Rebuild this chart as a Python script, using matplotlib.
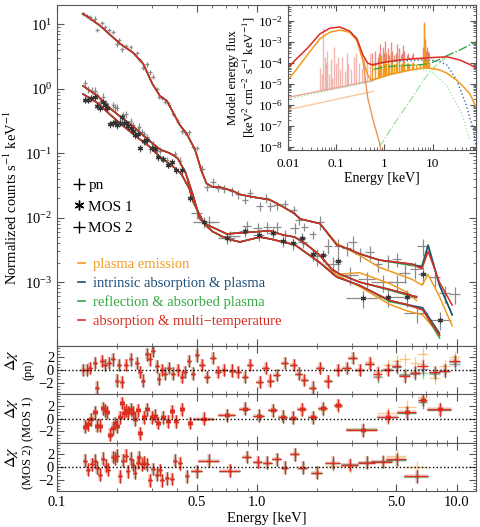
import numpy as np
import matplotlib
matplotlib.use("Agg")
from matplotlib import pyplot as plt
from matplotlib.lines import Line2D
from matplotlib.ticker import FixedLocator, FixedFormatter, NullFormatter, LogLocator, MultipleLocator

plt.rcParams['font.family'] = ['Liberation Serif', 'DejaVu Serif']
plt.rcParams['mathtext.fontset'] = 'stix'
plt.rcParams['font.size'] = 10.5
plt.rcParams['axes.edgecolor'] = '#555555'
plt.rcParams['xtick.color'] = '#555555'
plt.rcParams['ytick.color'] = '#555555'
plt.rcParams['xtick.labelcolor'] = 'black'
plt.rcParams['ytick.labelcolor'] = 'black'

# colours of the four fitted models
c_orange = '#f39a1e'
c_blue = '#1c4f7c'
c_green = '#35a845'
c_red = '#db2d20'
c_data = '#8a8a8a'

model_names = ['plasma emission', 'intrinsic absorption & plasma',
               'reflection & absorbed plasma', 'absorption & multi\u2212temperature']

# ---------------- pn spectrum ----------------
pn_E = [0.135, 0.141, 0.146, 0.155, 0.159, 0.168, 0.174, 0.182, 0.191, 0.200,
        0.204, 0.211, 0.221, 0.234, 0.251, 0.260, 0.269, 0.282, 0.292, 0.302,
        0.316, 0.323, 0.335, 0.347, 0.363, 0.380, 0.403, 0.422, 0.437, 0.457,
        0.479, 0.501, 0.531, 0.562, 0.603, 0.637, 0.683, 0.750, 0.804, 0.871,
        0.922, 1.035, 1.11, 1.17, 1.26, 1.38, 1.53, 1.62, 1.73, 1.90,
        2.07, 2.27, 2.55, 2.82, 3.02, 3.27, 3.67, 4.03, 4.53, 5.01,
        5.50, 6.18, 6.76, 7.77, 8.72, 9.78]
pn_V = [14.6, 13.5, 12.9, 12.3, 8.2, 10.5, 9.0, 8.2, 7.6, 4.9,
        5.7, 4.1, 4.6, 4.5, 3.6, 2.8, 2.1, 2.4, 1.8, 1.55,
        1.0, 0.75, 0.72, 0.63, 0.57, 0.41, 0.31, 0.22, 0.21, 0.21,
        0.125, 0.12, 0.058, 0.030, 0.036, 0.029, 0.028, 0.026, 0.023, 0.019,
        0.024, 0.015, 0.020, 0.015, 0.0155, 0.0165, 0.013, 0.0092, 0.0072, 0.0055,
        0.0085, 0.0037, 0.0037, 0.0034, 0.0042, 0.00275, 0.0029, 0.0019, 0.0021, 0.0023,
        0.0014, 0.0016, 0.0036, 0.0012, 0.00068, 0.00065]
pn_relerr = [0.08] * 32 + [0.15] * 18 + [0.25] * 10 + [0.3] * 6
pn_relwid = [0.02] * 32 + [0.035] * 9 + [0.04] * 9 + [0.05] * 10 + [0.06] * 6
pn_res_red = [0.0, 0.0, 0.3, 1.1, -2.8, 1.4, 0.8, 1.1, 1.7, -1.7,
              0.8, -1.9, 0.8, 1.7, 1.1, -0.3, -1.7, 2.5, 1.7, 3.0,
              0.6, -1.4, 0.0, -0.6, 0.3, -0.6, 0.0, -1.1, -0.3, 1.4,
              -0.6, 2.3, 0.8, -1.1, 1.9, -0.3, 0.0, -0.1, -0.3, -1.1,
              0.8, -1.9, 0.3, -1.7, -0.8, 1.1, 0.8, -0.6, -1.6, -2.8,
              0.3, -1.8, 0.0, 0.3, 1.9, 0.0, 1.0, -0.6, 0.0, 0.6,
              -1.0, -0.4, 0.6, -0.3, -0.1, 1.4]
pn_res_orange = pn_res_red[:56] + [1.2, -0.2, 0.8, 1.4, 1.7, 1.1, 2.6, -1.2, 0.6, 2.0]
pn_res_blue = pn_res_red[:56] + [1.0, -1.1, 0.1, 0.4, -0.8, -0.6, 0.1, -0.5, -0.2, 1.0]
pn_res_green = pn_res_red[:56] + [0.9, -0.9, 0.0, 0.5, -0.7, -0.3, -0.4, -0.6, -0.1, 1.2]

pn_mE = [0.135, 0.164, 0.207, 0.24, 0.27, 0.30, 0.327, 0.355, 0.41, 0.446,
         0.49, 0.53, 0.56, 0.60, 0.65, 0.76, 0.82, 0.95, 1.16, 1.35,
         1.55, 1.64, 2.07, 2.51, 2.92, 3.27, 4.1, 6.0, 6.7, 7.2,
         8.2, 9.5]
pn_red = [14.7, 9.6, 5.0, 3.65, 2.45, 1.2, 0.78, 0.65, 0.28, 0.2,
          0.115, 0.052, 0.034, 0.030, 0.030, 0.026, 0.023, 0.021, 0.019, 0.0148,
          0.0115, 0.0096, 0.0081, 0.0038, 0.0032, 0.00275, 0.0022, 0.0019, 0.0016, 0.0030,
          0.001, 0.00044]
pn_blue = pn_red[:25] + [0.00275, 0.0022, 0.0019, 0.0017, 0.0037, 0.0009, 0.00031]
pn_green = pn_red[:25] + [0.00275, 0.0022, 0.0018, 0.0018, 0.0038, 0.0009, 0.00031]
pn_orange = pn_red[:23] + [0.0040, 0.0031, 0.0026, 0.0017, 0.0011, 0.0009, 0.0013, 0.0006, 0.00021]

# ---------------- MOS 1 spectrum ----------------
m1_E = [0.138, 0.143, 0.148, 0.155, 0.159, 0.164, 0.170, 0.174, 0.178, 0.184,
        0.191, 0.195, 0.200, 0.207, 0.211, 0.216, 0.221, 0.226, 0.234, 0.240,
        0.245, 0.254, 0.260, 0.272, 0.282, 0.298, 0.309, 0.320, 0.339, 0.359,
        0.376, 0.393, 0.422, 0.462, 0.543, 0.708, 0.871, 1.02, 1.20, 1.35,
        1.52, 1.68, 1.90, 2.14, 2.55, 3.39, 4.56, 5.67, 6.76, 8.22]
m1_V = [0.68, 0.68, 0.72, 0.74, 0.55, 0.50, 0.62, 0.56, 0.50, 0.28,
        0.295, 0.31, 0.275, 0.30, 0.36, 0.29, 0.29, 0.265, 0.25, 0.22,
        0.19, 0.20, 0.12, 0.153, 0.158, 0.122, 0.115, 0.087, 0.082, 0.066,
        0.073, 0.055, 0.055, 0.020, 0.0085, 0.0048, 0.0062, 0.0054, 0.0058, 0.0044,
        0.0040, 0.0048, 0.0027, 0.0026, 0.0021, 0.00056, 0.00058, 0.00058, 0.00133, 0.00026]
m1_relerr = [0.12] * 34 + [0.2] * 10 + [0.3] * 6
m1_relwid = [0.02] * 34 + [0.12, 0.10, 0.06, 0.06, 0.05, 0.05, 0.05, 0.05, 0.05, 0.05,
                           0.05, 0.18, 0.12, 0.11, 0.05, 0.14]
m1_res_red = [-1.3, -0.9, -0.1, 1.0, -1.1, -1.1, 1.6, 1.3, 1.0, -2.5,
              -1.5, -0.7, -1.2, 0.2, 2.4, 0.9, 1.3, 1.0, 1.4, 0.9,
              -0.1, 1.3, -2.3, 0.2, 1.4, 0.2, 0.4, -0.7, 0.2, -0.4,
              1.1, -0.4, 1.4, -0.7, 0.0, 0.5, 1.5, 0.4, 1.3, 0.3,
              0.1, 1.4, 0.2, 1.6, 2.1, -1.8, 0.3, 1.0, 2.9, 1.4]
m1_res_orange = m1_res_red[:43] + [1.3, 1.8, -1.6, 0.8, 1.8, 3.3, 1.3]
m1_res_blue = m1_res_red[:43] + [1.6, 2.0, -1.8, 0.2, 0.8, 2.5, 1.3]
m1_res_green = m1_res_red[:43] + [1.5, 2.1, -1.7, 0.2, 0.9, 2.6, 1.5]

m1_mE = [0.135, 0.16, 0.184, 0.21, 0.24, 0.27, 0.292, 0.327, 0.367, 0.40,
         0.42, 0.46, 0.479, 0.518, 0.55, 0.60, 0.708, 0.822, 1.035, 1.16,
         1.55, 2.07, 2.51, 3.27, 4.62, 5.62, 6.76, 8.22]
m1_red = [0.83, 0.60, 0.40, 0.28, 0.20, 0.15, 0.125, 0.088, 0.068, 0.055,
          0.047, 0.028, 0.018, 0.011, 0.0078, 0.0061, 0.0047, 0.0042, 0.0050, 0.0047,
          0.0038, 0.0020, 0.0012, 0.00089, 0.00052, 0.00045, 0.00037, 0.000148]
m1_blue = m1_red[:24] + [0.00052, 0.00045, 0.0004, 0.00016]
m1_green = m1_red[:24] + [0.0005, 0.00044, 0.00038, 0.000135]
m1_orange = m1_red[:22] + [0.0013, 0.00085, 0.00045, 0.00036, 0.00031, 0.00015]

# ---------------- MOS 2 spectrum ----------------
m2_E = [0.138, 0.143, 0.150, 0.155, 0.159, 0.164, 0.170, 0.176, 0.180, 0.191,
        0.195, 0.200, 0.207, 0.214, 0.221, 0.226, 0.234, 0.240, 0.245, 0.254,
        0.257, 0.266, 0.272, 0.282, 0.292, 0.302, 0.316, 0.327, 0.335, 0.355,
        0.376, 0.389, 0.412, 0.447, 0.501, 0.575, 0.733, 0.891, 1.01, 1.13,
        1.26, 1.38, 1.55, 1.70, 1.99, 2.40, 2.92, 3.55, 4.26, 5.01,
        6.31]
m2_V = [1.21, 0.98, 0.94, 0.94, 0.79, 0.63, 0.76, 0.60, 0.53, 0.56,
        0.52, 0.51, 0.31, 0.39, 0.40, 0.28, 0.32, 0.275, 0.22, 0.24,
        0.26, 0.21, 0.20, 0.18, 0.116, 0.14, 0.11, 0.11, 0.082, 0.078,
        0.071, 0.097, 0.077, 0.035, 0.012, 0.0087, 0.0052, 0.0075, 0.0068, 0.0071,
        0.0071, 0.0053, 0.0070, 0.0042, 0.0025, 0.0019, 0.0013, 0.0011, 0.0010, 0.0010,
        0.00033]
m2_relerr = [0.12] * 34 + [0.2] * 10 + [0.3] * 7
m2_relwid = [0.02] * 34 + [0.06, 0.12, 0.12, 0.05, 0.05, 0.05, 0.05, 0.04, 0.05, 0.05,
                           0.06, 0.09, 0.10, 0.10, 0.12, 0.12, 0.14]
m2_res_red = [1.0, -0.4, 0.4, 1.0, -0.1, -1.2, 1.3, 0.2, -0.4, 1.6,
              1.3, 1.8, -1.5, 1.0, 1.8, -0.7, 1.3, 0.3, -0.9, 0.7,
              1.6, 0.4, 0.7, 0.4, -2.1, -0.3, -1.2, -0.5, -2.1, -1.8,
              -1.9, 1.0, 0.6, -1.5, -0.7, 1.0, -0.6, 1.6, 0.8, 0.7,
              1.2, -0.1, 2.0, -0.1, -0.9, 0.7, 0.3, 0.7, 0.8, 1.2,
              -1.5]
m2_res_orange = m2_res_red[:45] + [0.2, 0.1, 0.8, 0.9, 1.8, 0.0]
m2_res_blue = m2_res_red[:45] + [0.6, 0.4, 0.8, 0.9, 1.1, -1.5]
m2_res_green = m2_res_red[:45] + [0.6, 0.3, 0.7, 0.8, 1.1, -1.6]

m2_mE = [0.135, 0.16, 0.184, 0.21, 0.24, 0.27, 0.292, 0.327, 0.367, 0.40,
         0.44, 0.48, 0.518, 0.562, 0.708, 0.822, 1.035, 1.16, 1.35, 1.55,
         1.78, 2.07, 2.37, 2.6, 3.27, 4.62, 5.62, 6.3]
m2_red = [1.11, 0.77, 0.50, 0.36, 0.264, 0.19, 0.154, 0.115, 0.10, 0.085,
          0.05, 0.022, 0.0096, 0.0078, 0.0056, 0.0058, 0.0061, 0.0063, 0.0054, 0.005,
          0.0038, 0.0026, 0.00159, 0.00133, 0.001, 0.00077, 0.00065, 0.00059]
m2_blue = m2_red[:25] + [0.00077, 0.00066, 0.00058]
m2_green = m2_red[:25] + [0.00075, 0.00063, 0.0006]
m2_orange = m2_red[:24] + [0.0014, 0.00095, 0.0007, 0.00052]

# ---------------- inset: model energy flux ----------------
red_cont_E = [0.01, 0.015, 0.025, 0.046, 0.074, 0.12, 0.19, 0.27, 0.36, 0.45, 0.58,
              0.8, 1.0, 2.0, 4.0, 6.3, 10, 20, 37, 60, 80]
red_cont_V = [5.9e-5, 1.6e-4, 5e-4, 2.5e-3, 4.7e-3, 5.3e-3, 3.4e-3, 1.45e-3, 2.4e-4, 1e-4, 8e-5,
              1e-4, 1.1e-4, 1.4e-4, 1.6e-4, 1.7e-4, 1.85e-4, 2e-4, 1.4e-4, 8.5e-5, 5.9e-5]
orange_cont_E = [0.01, 0.015, 0.025, 0.046, 0.074, 0.12, 0.19, 0.27, 0.36, 0.45, 0.52, 0.58,
                 0.8, 1.3, 3, 6.3, 10, 14, 20, 32, 45, 60, 80]
orange_cont_V = [1.6e-5, 5e-5, 2.4e-4, 1.45e-3, 3e-3, 3.8e-3, 3e-3, 1.2e-3, 1.4e-4, 2.8e-5, 1.6e-5, 1.6e-5,
                 2e-5, 2.8e-5, 4.3e-5, 5.9e-5, 5.5e-5, 4.7e-5, 3.3e-5, 1.5e-5, 7e-6, 3.3e-6, 8e-7]
soft_E = [0.27, 0.36, 0.45, 0.58, 0.8, 0.9]
soft_V = [1.2e-3, 1.3e-4, 2.3e-6, 2e-7, 1.5e-8, 3e-9]
pink_E = [0.01, 0.6]
pink_V = [2.3e-6, 1.5e-5]
peach_E = [0.01, 0.6]
peach_V = [5.9e-7, 4.5e-6]
gdot_E = [0.01, 0.6, 1, 3, 6, 10, 20, 40, 60]
gdot_V = [1.9e-6, 1.4e-5, 3e-5, 4.5e-5, 5e-5, 3.5e-5, 8e-6, 4e-7, 2e-8]
bdot_E = [0.6, 1, 3, 6.3, 10, 14, 20, 32, 50, 70, 80]
bdot_V = [9e-5, 1.1e-4, 1.3e-4, 1.4e-4, 1.35e-4, 1.2e-4, 8e-5, 1.5e-5, 1e-6, 7e-8, 1e-8]
gtot_E = [0.6, 1, 2, 4, 6.3, 10, 14, 20, 32, 50, 80]
gtot_V = [5e-5, 6.5e-5, 7.5e-5, 8e-5, 8.5e-5, 1.1e-4, 1.5e-4, 2.3e-4, 3.6e-4, 6e-4, 1.05e-3]
refl_E = [0.8, 1.5, 3, 5, 8, 12, 20]
refl_V = [1e-8, 1e-7, 1e-6, 6e-6, 3e-5, 8e-5, 2e-4]

soft_line_E = [0.046, 0.050, 0.053, 0.058, 0.062, 0.066, 0.071, 0.077, 0.083, 0.09,
               0.1, 0.11, 0.12, 0.135, 0.15, 0.165, 0.18, 0.2, 0.23, 0.26,
               0.3, 0.34, 0.38, 0.43, 0.5]
soft_line_base = [4.5e-6, 4.7e-6, 4.9e-6, 5.1e-6, 5.3e-6, 5.4e-6, 5.6e-6, 5.8e-6, 6e-6, 6.1e-6,
                  6.3e-6, 6.6e-6, 6.9e-6, 7.3e-6, 7.6e-6, 8e-6, 8.3e-6, 8.6e-6, 9.2e-6, 9.6e-6,
                  1.03e-5, 1.1e-5, 1.15e-5, 1.22e-5, 1.3e-5]
soft_line_peak = [6e-5, 3e-5, 5e-3, 2e-4, 1e-4, 4e-4, 3e-5, 1.5e-4, 2e-5, 6e-4,
                  1e-4, 2e-4, 5e-5, 2e-4, 4e-5, 3e-4, 1e-4, 5e-5, 2e-4, 3e-4,
                  1e-4, 6e-5, 2e-4, 1e-4, 3e-4]

hard_line_E = [0.56, 0.65, 0.73, 0.77, 0.82, 0.87, 0.92, 0.97, 1.02, 1.1,
               1.18, 1.25, 1.35, 1.47, 1.6, 1.75, 1.85, 2.0, 2.18, 2.3,
               2.45, 2.62, 2.9, 3.1, 3.3, 3.7, 3.9, 4.5, 5.5, 6.4,
               6.7, 6.97, 7.4, 7.8, 8.2, 8.6]
hard_red_base = [8e-5, 8.5e-5, 9e-5, 9.5e-5, 1e-4, 1e-4, 1.05e-4, 1.1e-4, 1.1e-4, 1.15e-4,
                 1.2e-4, 1.2e-4, 1.25e-4, 1.3e-4, 1.3e-4, 1.35e-4, 1.35e-4, 1.4e-4, 1.4e-4, 1.45e-4,
                 1.45e-4, 1.5e-4, 1.5e-4, 1.5e-4, 1.55e-4, 1.55e-4, 1.6e-4, 1.6e-4, 1.65e-4, 1.7e-4,
                 1.7e-4, 1.7e-4, 1.75e-4, 1.75e-4, 1.8e-4, 1.8e-4]
hard_red_peak = [3e-4, 4e-4, 2e-4, 3e-4, 8e-4, 2.5e-4, 6e-4, 3e-4, 1.2e-3, 3e-4,
                 5e-4, 2.5e-4, 1e-3, 4e-4, 2.5e-4, 3e-4, 8e-4, 5e-4, 2.5e-4, 3e-4,
                 7e-4, 4e-4, 2.5e-4, 3e-4, 2e-4, 2.5e-4, 3e-4, 2e-4, 2e-4, 6e-4,
                 9e-3, 1.5e-3, 4e-4, 6e-4, 4e-4, 3e-4]
hard_orange_base = [1.6e-5, 1.7e-5, 1.9e-5, 2e-5, 2.1e-5, 2.2e-5, 2.3e-5, 2.4e-5, 2.5e-5, 2.6e-5,
                    2.8e-5, 2.9e-5, 3e-5, 3.2e-5, 3.4e-5, 3.5e-5, 3.6e-5, 3.8e-5, 4e-5, 4.1e-5,
                    4.2e-5, 4.4e-5, 4.6e-5, 4.7e-5, 4.8e-5, 5e-5, 5.1e-5, 5.3e-5, 5.6e-5, 5.8e-5,
                    5.8e-5, 5.9e-5, 5.9e-5, 6e-5, 6e-5, 6e-5]
hard_orange_peak = [1e-4, 1.2e-4, 8e-5, 1e-4, 2.5e-4, 8e-5, 2e-4, 1e-4, 4e-4, 1e-4,
                    1.5e-4, 9e-5, 3e-4, 1.2e-4, 9e-5, 1e-4, 2.5e-4, 1.5e-4, 9e-5, 1e-4,
                    2.2e-4, 1.3e-4, 1e-4, 1e-4, 9e-5, 1e-4, 1.1e-4, 9e-5, 9e-5, 3e-4,
                    8e-3, 1e-3, 1.5e-4, 2.5e-4, 1.5e-4, 1e-4]

# ---------------- figure ----------------
fig = plt.figure(figsize=(4.8, 5.27), dpi=100)
W, H = 480.0, 527.0


def box(x0, y0, x1, y1):
    return [x0 / W, 1 - y1 / H, (x1 - x0) / W, (y1 - y0) / H]


ax = fig.add_axes(box(57, 5, 476, 346))
ax_pn = fig.add_axes(box(57, 346, 476, 394), sharex=ax)
ax_m1 = fig.add_axes(box(57, 394, 476, 443), sharex=ax)
ax_m2 = fig.add_axes(box(57, 443, 476, 491), sharex=ax)
ax_in = fig.add_axes(box(288, 5, 476, 150))

xminor = [0.2, 0.3, 0.4, 0.6, 0.7, 0.8, 0.9, 2, 3, 4, 6, 7, 8, 9]


def style_x(a, show):
    a.set_xscale('log')
    a.set_xlim(0.1, 12.5)
    a.xaxis.set_major_locator(FixedLocator([0.1, 0.5, 1.0, 5.0, 10.0]))
    a.xaxis.set_minor_locator(FixedLocator(xminor))
    a.xaxis.set_minor_formatter(NullFormatter())
    if show:
        a.xaxis.set_major_formatter(FixedFormatter(['0.1', '0.5', '1.0', '5.0', '10.0']))
    else:
        a.tick_params(axis='x', which='both', labelbottom=False)
    a.tick_params(which='both', direction='in', top=True, right=True)
    a.tick_params(which='major', length=5)
    a.tick_params(which='minor', length=2.5)


def draw_models(a, mE, orange, blue, green, red):
    a.plot(mE[:len(orange)], orange, color=c_orange, lw=1.1)
    a.plot(mE[:len(green)], green, color=c_green, lw=1.1)
    a.plot(mE[:len(blue)], blue, color=c_blue, lw=1.1)
    a.plot(mE[:len(red)], red, color=c_red, lw=1.1)


# main spectra
for E, V, rel, wid, mk in [(pn_E, pn_V, pn_relerr, pn_relwid, None),
                           (m1_E, m1_V, m1_relerr, m1_relwid, (6, 2, 0)),
                           (m2_E, m2_V, m2_relerr, m2_relwid, None)]:
    E = np.array(E)
    V = np.array(V)
    ax.errorbar(E, V, xerr=E * np.array(wid), yerr=V * np.array(rel), fmt='none',
                ecolor=c_data, elinewidth=0.9, zorder=2)
    if mk is not None:
        ax.plot(E, V, ls='none', marker=mk, ms=4, mew=0.8, color='#333333', zorder=3)

draw_models(ax, pn_mE, pn_orange, pn_blue, pn_green, pn_red)
draw_models(ax, m1_mE, m1_orange, m1_blue, m1_green, m1_red)
draw_models(ax, m2_mE, m2_orange, m2_blue, m2_green, m2_red)

style_x(ax, False)
ax.set_yscale('log')
ax.set_ylim(1.02e-4, 20)
ax.yaxis.set_major_locator(FixedLocator([1e-3, 1e-2, 1e-1, 1, 10]))
ax.yaxis.set_minor_locator(LogLocator(base=10, subs=np.arange(2, 10)))
ax.yaxis.set_minor_formatter(NullFormatter())
ax.set_ylabel('Normalized counts s$^{-1}$ keV$^{-1}$')
ax.yaxis.set_label_coords(-0.088, 0.434)

leg1 = ax.legend([Line2D([], [], ls='none', marker='+', color='k', ms=8, mew=1),
                  Line2D([], [], ls='none', marker=(6, 2, 0), color='k', ms=7, mew=1),
                  Line2D([], [], ls='none', marker='+', color='k', ms=8, mew=1)],
                 ['pn', 'MOS 1', 'MOS 2'], loc='upper left', bbox_to_anchor=(0.035, 0.491),
                 frameon=False, handlelength=0.9, handletextpad=0.2, labelspacing=0.5,
                 borderpad=0, borderaxespad=0, fontsize=11)
ax.add_artist(leg1)
cols = [c_orange, c_blue, c_green, c_red]
ax.legend([Line2D([], [], color=c, lw=1.2) for c in cols], model_names,
          loc='upper left', bbox_to_anchor=(0.05, 0.259), frameon=False,
          handlelength=0.45, handletextpad=0.6, labelspacing=0.38, borderpad=0,
          borderaxespad=0, labelcolor=cols, fontsize=10.5)

# residual panels
for a, E, wid, res, mk, lab in [
        (ax_pn, pn_E, pn_relwid, [pn_res_orange, pn_res_blue, pn_res_green, pn_res_red], '+', '(pn)'),
        (ax_m1, m1_E, m1_relwid, [m1_res_orange, m1_res_blue, m1_res_green, m1_res_red], (6, 2, 0), '(MOS 1)'),
        (ax_m2, m2_E, m2_relwid, [m2_res_orange, m2_res_blue, m2_res_green, m2_res_red], '+', '(MOS 2)')]:
    E = np.array(E)
    xe = E * np.array(wid)
    for c, r in zip(cols[:3], res[:3]):
        a.errorbar(E, r, xerr=xe, yerr=1, fmt='none', ecolor=c, elinewidth=1.0, alpha=0.5)
    a.errorbar(E, res[3], xerr=xe, yerr=1, fmt='none', ecolor=c_red, elinewidth=2.6, alpha=0.22)
    a.errorbar(E, res[3], xerr=xe, yerr=1, fmt='none', ecolor=c_red, elinewidth=0.8)
    a.plot(E, res[3], ls='none', marker=mk, ms=3 if mk == '+' else 4, mew=0.9, color=c_red)
    a.axhline(0, color='k', ls=':', lw=1)
    a.set_ylim(-3.8, 3.8)
    a.yaxis.set_major_locator(FixedLocator([-2, 0, 2]))
    a.yaxis.set_minor_locator(MultipleLocator(0.5))
    a.tick_params(axis='y', labelsize=10.5, pad=2)
    a.text(-0.108, 0.71, '$\\Delta\\chi$', transform=a.transAxes, rotation=90,
           ha='center', va='center', fontsize=11.5)
    a.text(-0.068, 0.5, lab, transform=a.transAxes, rotation=90,
           ha='center', va='center', fontsize=9)
    style_x(a, a is ax_m2)

ax_m2.set_xlabel('Energy [keV]', labelpad=2)

# inset
ax_in.set_facecolor('white')
ax_in.set_zorder(5)
ax_in.vlines(soft_line_E, soft_line_base, soft_line_peak, color='#e88a80', lw=1.0, alpha=0.6)
ax_in.plot(pink_E, pink_V, color='#e8a39b', lw=1.0)
ax_in.plot(peach_E, peach_V, color='#fcc79a', lw=1.0)
ax_in.plot(gdot_E, gdot_V, color='#9be39b', lw=0.9, ls=':')
ax_in.plot(refl_E, refl_V, color='#9be39b', lw=0.9, ls='-.')
ax_in.plot(soft_E, soft_V, color='#e9955a', lw=1.0)
ax_in.vlines(hard_line_E, hard_red_base, hard_red_peak, color=c_red, lw=1.0, alpha=0.55)
ax_in.vlines(hard_line_E, hard_orange_base, hard_orange_peak, color=c_orange, lw=1.0)
ax_in.plot(bdot_E, bdot_V, color='#3a6fb0', lw=1.0, ls=':')
ax_in.plot(gtot_E, gtot_V, color=c_green, lw=1.0, ls='-.')
ax_in.plot(orange_cont_E, orange_cont_V, color=c_orange, lw=1.1)
ax_in.plot(red_cont_E, red_cont_V, color=c_red, lw=1.1)
ax_in.set_xscale('log')
ax_in.set_yscale('log')
ax_in.set_xlim(0.01, 80)
ax_in.set_ylim(7e-9, 6e-2)
ax_in.xaxis.set_major_locator(FixedLocator([0.01, 0.1, 1, 10]))
ax_in.xaxis.set_major_formatter(FixedFormatter(['0.01', '0.1', '1', '10']))
ax_in.xaxis.set_minor_locator(LogLocator(base=10, subs=np.arange(2, 10)))
ax_in.xaxis.set_minor_formatter(NullFormatter())
ax_in.yaxis.set_major_locator(LogLocator(base=10, numticks=12))
ax_in.yaxis.set_minor_locator(LogLocator(base=10, subs=np.arange(2, 10), numticks=12))
ax_in.yaxis.set_minor_formatter(NullFormatter())
ax_in.tick_params(which='both', direction='in', top=True, right=True, labelsize=9.5)
ax_in.tick_params(axis='x', which='major', pad=6)
ax_in.tick_params(which='major', length=4)
ax_in.tick_params(which='minor', length=2)
ax_in.set_xlabel('Energy [keV]', fontsize=10, labelpad=1)
ax_in.set_ylabel('Model energy flux\n[keV$^2$ cm$^{-2}$ s$^{-1}$ keV$^{-1}$]', fontsize=9.2,
                 labelpad=1, linespacing=1.1)

fig.savefig('out.png', dpi=100)
